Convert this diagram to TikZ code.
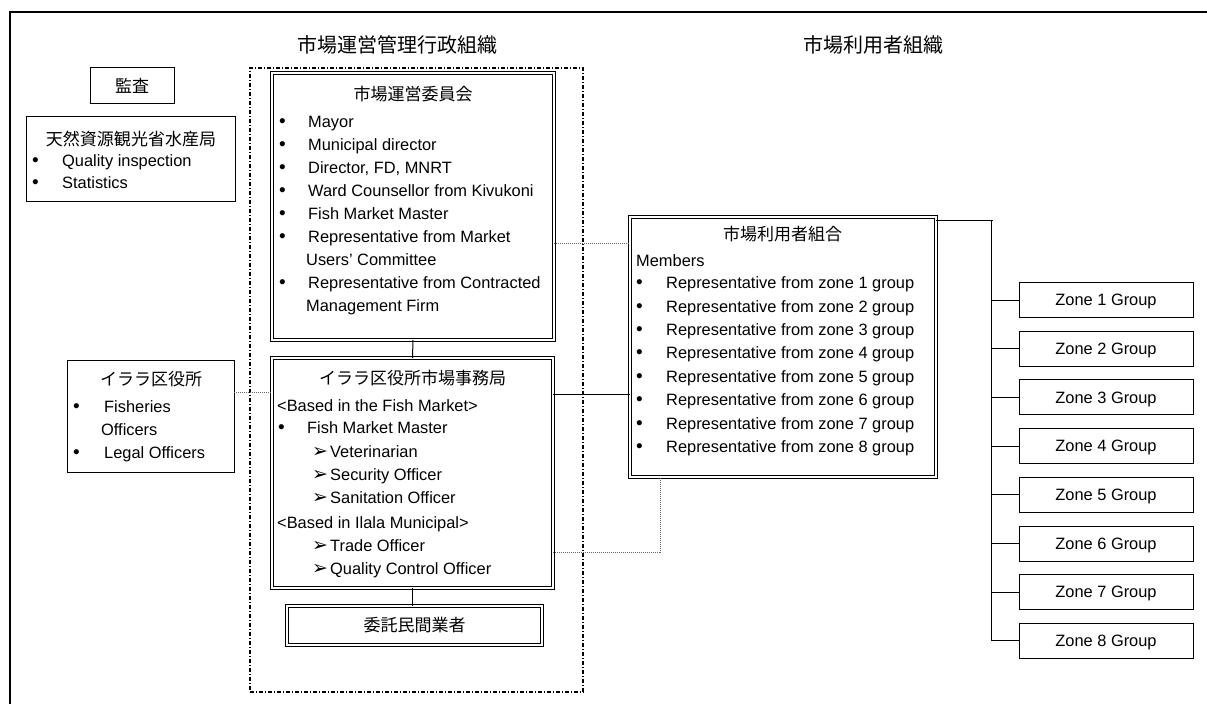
\documentclass[tikz,border=0pt]{standalone}
\usepackage{fontspec}
\setmainfont{Liberation Sans}
\newfontfamily\jp{Noto Sans CJK JP}
\newfontfamily\dvs{DejaVu Sans}
\newcommand\ftx{\fontsize{16.4bp}{20bp}\selectfont}
\newcommand\fjp{\jp\fontsize{17bp}{20bp}\selectfont}
\newcommand\fhd{\jp\fontsize{20bp}{24bp}\selectfont}
\begin{document}
\begin{tikzpicture}[x=1bp,y=-1bp,
  box/.style={draw, line width=1bp, inner sep=0pt, outer sep=0pt},
  dbox/.style={draw, line width=1bp, double, double distance=2bp, inner sep=0pt, outer sep=0pt},
  txt/.style={anchor=mid west, inner sep=0pt, font=\ftx, yshift=-3bp},
  bul/.style={anchor=mid west, inner sep=0pt, font=\fontsize{19bp}{20bp}\selectfont, yshift=-3bp},
  arr/.style={anchor=west, inner sep=0pt, font=\dvs\fontsize{19bp}{22bp}\selectfont},
  ttl/.style={anchor=mid, inner sep=0pt, font=\fjp, yshift=-4.5bp},
  hdg/.style={anchor=mid, inner sep=0pt, font=\fhd, yshift=-5bp},
  conn/.style={draw, line width=1bp},
  dotline/.style={draw=black!60, line width=0.8bp, dash pattern=on 1bp off 1bp},
  dashdot/.style={draw, line width=1.2bp, dash pattern=on 4bp off 2bp on 1bp off 2bp}]
\useasboundingbox (0,0) rectangle (1207,704);
% outer frame
\draw[line width=1.5bp] (10,720) -- (10,12) -- (1220,12);
% headings
\node[hdg] (h1) at (397,45) {市場運営管理行政組織};
\node[hdg] (h2) at (873,45) {市場利用者組織};
% administrative area
\node[dashdot, minimum width=333bp, minimum height=624bp, inner sep=0pt] (admin) at (416.5,380) {};
% audit
\node[box, minimum width=84bp, minimum height=36bp, font=\fjp] (kansa) at (132,86) {監査};
% fisheries division
\node[box, minimum width=208bp, minimum height=84bp] (fd) at (131,159) {};
\node[ttl] (fdt) at (131,138) {天然資源観光省水産局};
\node[bul] (fdb1) at (32,161) {•};
\node[txt] (fdi1) at (62,161) {Quality inspection};
\node[bul] (fdb2) at (32,183) {•};
\node[txt] (fdi2) at (62,183) {Statistics};
% ilala municipal
\node[box, minimum width=166bp, minimum height=112bp] (ila) at (151,416) {};
\node[ttl] (ilat) at (151,378) {イララ区役所};
\node[bul] (ilab1) at (73,407) {•};
\node[txt] (ilai1) at (104,407) {Fisheries};
\node[txt] (ilai2) at (101,430) {Officers};
\node[bul] (ilab3) at (73,453) {•};
\node[txt] (ilai3) at (104,453) {Legal Officers};
% market committee
\node[dbox, minimum width=282bp, minimum height=267bp] (mc) at (413,206.5) {};
\node[ttl] (mct) at (413,93) {市場運営委員会};
\foreach \yy/\t [count=\i] in {122/Mayor,145/Municipal director,168/{Director, FD, MNRT},191/Ward Counsellor from Kivukoni,214/Fish Market Master,237/Representative from Market,283/Representative from Contracted} {
  \node[bul] (mcb\i) at (279,\yy) {•};
  \node[txt] (mci\i) at (308,\yy) {\t};
}
\node[txt] (mcc1) at (306,260) {Users’ Committee};
\node[txt] (mcc2) at (306,306) {Management Firm};
% market office
\node[dbox, minimum width=281bp, minimum height=230bp] (mo) at (412.5,473) {};
\node[ttl] (mot) at (412.5,377) {イララ区役所市場事務局};
\node[txt] (mos1) at (277,406) {<Based in the Fish Market>};
\node[bul] (mob1) at (278,428) {•};
\node[txt] (moi1) at (307,428) {Fish Market Master};
\foreach \yy/\t [count=\i] in {452/Veterinarian,475/Security Officer,498/Sanitation Officer,546/Trade Officer,569/Quality Control Officer} {
  \node[arr] (moa\i) at (312,\yy) {➢};
  \node[txt] (mor\i) at (330,\yy) {\t};
}
\node[txt] (mos2) at (277,523) {<Based in Ilala Municipal>};
% contracted firm
\node[dbox, minimum width=255bp, minimum height=39bp, font=\fjp] (firm) at (414.5,625.5) {委託民間業者};
% market users association
\node[dbox, minimum width=306bp, minimum height=260bp] (us) at (783,347) {};
\node[ttl] (ust) at (782.5,233) {市場利用者組合};
\node[txt] (usm) at (636,261) {Members};
\foreach \i in {1,...,8} {
  \node[bul] (usb\i) at (636,{283+23.4*(\i-1)}) {•};
  \node[txt] (usi\i) at (666,{283+23.4*(\i-1)}) {Representative from zone \i\ group};
}
% zone groups
\foreach \i in {1,...,8} {
  \node[box, minimum width=174bp, minimum height=35bp] (z\i) at (1106,{300+48.7*(\i-1)}) {};
  \node[anchor=mid, inner sep=0pt, font=\ftx, yshift=-3bp] (zt\i) at (z\i) {Zone \i\ Group};
}
% connector coordinates
\coordinate (ya) at (0,243);
\coordinate (yb) at (0,392);
\coordinate (yc) at (0,394);
\coordinate (kk) at (660,552);
\coordinate (bus) at (991,220);
% connectors
\draw[conn] (mc.south) -- (mo.north);
\draw[conn] (mo.south) -- (mo.south |- firm.north);
\draw[dotline] (ila.east |- yb) -- (mo.west |- yb);
\draw[dotline] (mc.east |- ya) -- (us.west |- ya);
\draw[conn] (mo.east |- yc) -- (us.west |- yc);
\draw[dotline] (mo.east |- kk) -- (kk) -- (kk |- us.south);
\draw[conn] (us.east |- bus) -- ([xshift=2bp]bus) ;
\draw[conn] (bus) -- (bus |- z8.west);
\foreach \i in {1,...,8} {
  \draw[conn] (bus |- z\i.west) -- (z\i.west);
}
\end{tikzpicture}
\end{document}
